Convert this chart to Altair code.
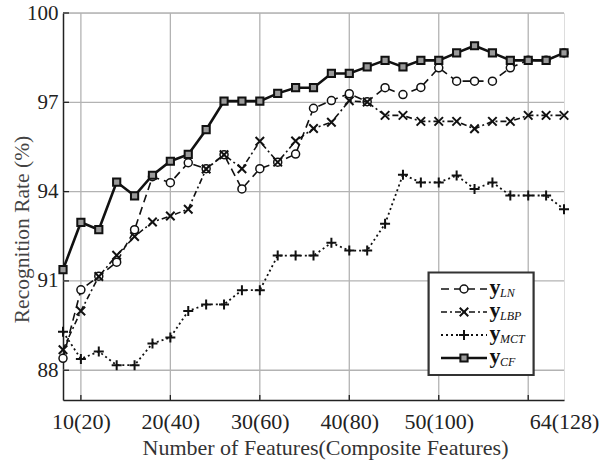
import altair as alt
import pandas as pd

# ---------------- data ----------------
x_vals = [8, 10, 12, 14, 16, 18, 20, 22, 24, 26, 28, 30, 32, 34, 36, 38, 40,
          42, 44, 46, 48, 50, 52, 54, 56, 58, 60, 62, 64]
y_ln = [88.40, 90.70, 91.16, 91.63, 92.72, 94.50, 94.30, 94.97, 94.77, 95.24,
        94.09, 94.77, 94.99, 95.26, 96.80, 97.06, 97.29, 97.02, 97.49, 97.26,
        97.50, 98.16, 97.71, 97.71, 97.71, 98.16, 98.41, 98.41, 98.66]
y_lbp = [88.69, 89.99, 91.15, 91.86, 92.49, 92.98, 93.18, 93.41, 94.76, 95.24,
         94.77, 95.69, 94.99, 95.70, 96.12, 96.33, 97.05, 97.01, 96.56, 96.56,
         96.36, 96.36, 96.36, 96.11, 96.36, 96.36, 96.56, 96.56, 96.56]
y_mct = [89.29, 88.38, 88.63, 88.17, 88.17, 88.90, 89.10, 89.99, 90.21, 90.21,
         90.69, 90.69, 91.85, 91.85, 91.85, 92.28, 92.02, 92.02, 92.92, 94.57,
         94.31, 94.31, 94.54, 94.09, 94.31, 93.87, 93.87, 93.87, 93.41]
y_cf = [91.38, 92.97, 92.72, 94.32, 93.86, 94.55, 95.02, 95.25, 96.08, 97.04,
        97.04, 97.04, 97.30, 97.49, 97.49, 97.97, 97.97, 98.19, 98.41, 98.19,
        98.41, 98.41, 98.66, 98.90, 98.66, 98.41, 98.41, 98.41, 98.66]

series_names = ["LN", "LBP", "MCT", "CF"]
series_values = {"LN": y_ln, "LBP": y_lbp, "MCT": y_mct, "CF": y_cf}

x_grid = [10, 20, 30, 40, 50, 60]
x_label_vals = [10, 20, 30, 40, 50, 64]
y_ticks = [88, 91, 94, 97, 100]

x_title = "Number of Features(Composite Features)"
y_title = "Recognition Rate (%)"

# ---------------- style ----------------
W, H = 501, 387
FONT = "'Liberation Serif', 'Times New Roman', Times, serif"
INK = "#111111"

X_PATH = "M-1,-1L1,1M-1,1L1,-1"
PLUS_PATH = "M-1,0L1,0M0,-1L0,1"

styles = {
    "LN": dict(dash=[8, 5], lw=1.6, shape="circle", size=64, filled=True,
               fill="white", sw=1.5),
    "LBP": dict(dash=[6, 3, 2, 3], lw=1.6, shape=X_PATH, size=72, filled=False,
                fill=None, sw=2.0),
    "MCT": dict(dash=[2, 3], lw=1.8, shape=PLUS_PATH, size=100, filled=False,
                fill=None, sw=2.0),
    "CF": dict(dash=None, lw=2.6, shape="square", size=52, filled=True,
               fill="#9a9a9a", sw=2.0),
}
draw_order = ["MCT", "LN", "LBP", "CF"]

xs = alt.Scale(domain=[8, 64], nice=False, zero=False)
ys = alt.Scale(domain=[87, 100], nice=False, zero=False)

x_axis = alt.Axis(
    values=x_label_vals,
    labelExpr="datum.value + '(' + (2 * datum.value) + ')'",
    grid=False, ticks=False,
    domainColor="#222222", domainWidth=1.5,
    labelFont=FONT, labelFontSize=22, labelColor="#222222",
    labelPadding=11, labelFlush=False, labelOverlap=False,
    title=x_title, titleFont=FONT, titleFontSize=22,
    titleFontWeight="normal", titleColor="#333333",
    titleX=262, titleY=54, titleBaseline="alphabetic", titleAlign="center",
)
y_axis = alt.Axis(
    values=y_ticks, grid=False, ticks=False,
    domainColor="#222222", domainWidth=1.5,
    labelFont=FONT, labelFontSize=21, labelColor="#222222",
    labelPadding=5, labelFlush=False,
    title=y_title, titleFont=FONT, titleFontSize=21.5,
    titleFontWeight="normal", titleColor="#444444",
    titleAngle=270, titleX=-41, titleY=216,
    titleAlign="center", titleBaseline="middle",
)


def X(field):
    return alt.X(field, scale=xs, axis=x_axis)


def Y(field):
    return alt.Y(field, scale=ys, axis=y_axis)


# ---------------- grid & ticks ----------------
gx_df = pd.DataFrame({"x": x_grid})
gy_df = pd.DataFrame({"y": y_ticks})

grid_x = alt.Chart(gx_df).mark_rule(color="#b3b3b3", strokeWidth=1.3).encode(
    x=X("x:Q")
)
grid_y = alt.Chart(gy_df).mark_rule(color="#b3b3b3", strokeWidth=1.3).encode(
    y=Y("y:Q")
)
tick_x = alt.Chart(gx_df).mark_rule(color="#222222", strokeWidth=1.3).encode(
    x=X("x:Q"), y=alt.value(H), y2=alt.value(H - 5),
)
tick_y = alt.Chart(gy_df).mark_rule(color="#222222", strokeWidth=1.3).encode(
    y=Y("y:Q"), x=alt.value(0), x2=alt.value(6),
)

layers = [grid_x, grid_y, tick_x, tick_y]

# ---------------- series ----------------
for name in draw_order:
    st = styles[name]
    df = pd.DataFrame({"x": x_vals, "y": series_values[name]})
    line_kw = dict(color=INK, strokeWidth=st["lw"])
    if st["dash"] is not None:
        line_kw["strokeDash"] = st["dash"]
    line = alt.Chart(df).mark_line(**line_kw).encode(x=X("x:Q"), y=Y("y:Q"))
    pt_kw = dict(shape=st["shape"], size=st["size"], filled=st["filled"],
                 stroke=INK, strokeWidth=st["sw"], opacity=1)
    if st["fill"] is not None:
        pt_kw["fill"] = st["fill"]
    pts = alt.Chart(df).mark_point(**pt_kw).encode(x=X("x:Q"), y=Y("y:Q"))
    layers += [line, pts]

# ---------------- legend ----------------
one = pd.DataFrame({"k": [0]})
box = alt.Chart(one).mark_rect(fill="white", stroke="#333333", strokeWidth=2.2).encode(
    x=alt.value(365.6), x2=alt.value(470.6), y=alt.value(259.5), y2=alt.value(362)
)
layers.append(box)

for i, name in enumerate(series_names):
    st = styles[name]
    ly = 276 + 23 * i
    rk = dict(color=INK, strokeWidth=st["lw"])
    if st["dash"] is not None:
        rk["strokeDash"] = st["dash"]
    lg_line = alt.Chart(one).mark_rule(**rk).encode(
        x=alt.value(378), x2=alt.value(424), y=alt.value(ly)
    )
    pk = dict(shape=st["shape"], size=st["size"], filled=st["filled"],
              stroke=INK, strokeWidth=st["sw"], opacity=1)
    if st["fill"] is not None:
        pk["fill"] = st["fill"]
    lg_pt = alt.Chart(one).mark_point(**pk).encode(
        x=alt.value(401), y=alt.value(ly)
    )
    lg_y = alt.Chart(one).mark_text(
        text="y", font=FONT, fontSize=22, fontWeight="bold", color=INK,
        align="left", baseline="alphabetic"
    ).encode(x=alt.value(426.5), y=alt.value(ly + 5))
    lg_sub = alt.Chart(one).mark_text(
        text=name, font=FONT, fontSize=12, fontStyle="italic", color=INK,
        align="left", baseline="alphabetic"
    ).encode(x=alt.value(437), y=alt.value(ly + 8))
    layers += [lg_line, lg_pt, lg_y, lg_sub]

chart = alt.layer(*layers).properties(
    width=W, height=H,
    autosize=alt.AutoSizeParams(type="none"),
    padding={"left": 63, "top": 13, "right": 42, "bottom": 60},
    background="white",
).configure_view(stroke=None).configure_axis(
    labelFont=FONT, titleFont=FONT
).configure(font=FONT)

chart.save("out.html", embed_options={"renderer": "svg", "actions": False})
